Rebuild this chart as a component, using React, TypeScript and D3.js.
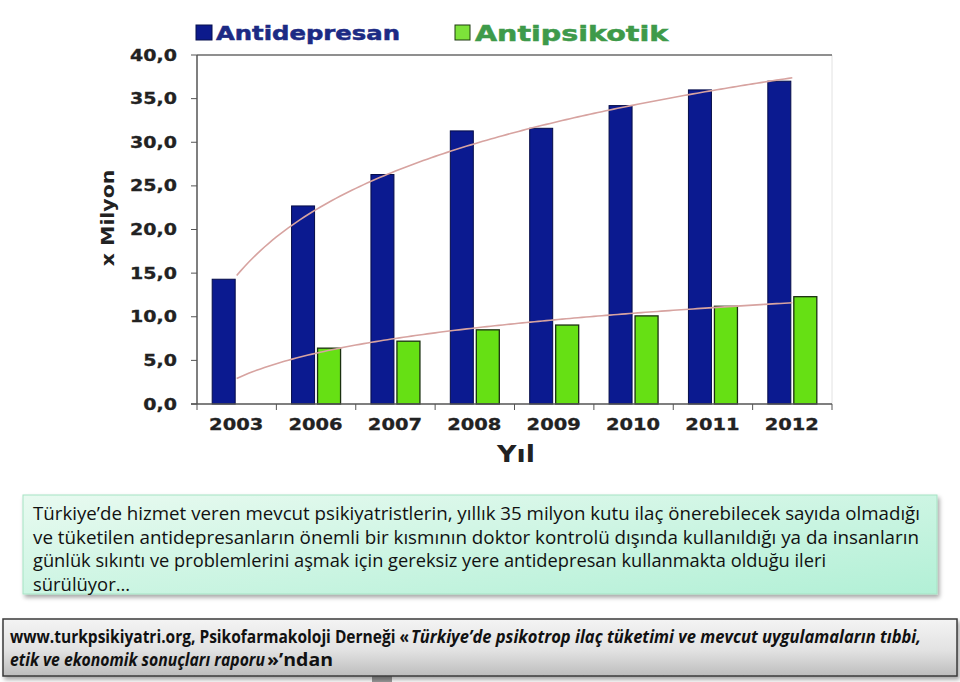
import React from "react";
import * as d3 from "d3";

const years = ["2003", "2006", "2007", "2008", "2009", "2010", "2011", "2012"];
const antidepresan: (number | null)[] = [14.3, 22.7, 26.3, 31.3, 31.6, 34.2, 36.0, 37.0];
const antipsikotik: (number | null)[] = [null, 6.4, 7.2, 8.5, 9.05, 10.1, 11.2, 12.3];
const yTicks = [0, 5, 10, 15, 20, 25, 30, 35, 40];
const seriesNames = ["Antidepresan", "Antipsikotik"];
const yAxisTitle = "x Milyon";
const xAxisTitle = "Yıl";
const noteLines = [
  "Türkiye’de hizmet veren mevcut psikiyatristlerin, yıllık 35 milyon kutu ilaç önerebilecek sayıda olmadığı",
  "ve tüketilen antidepresanların önemli bir kısmının  doktor kontrolü dışında kullanıldığı ya da insanların",
  "günlük sıkıntı ve problemlerini aşmak için gereksiz yere antidepresan kullanmakta olduğu ileri",
  "sürülüyor…",
];
const noteWidths = [887, 886, 793, 97];
// source pieces: [text, italic, line, x-start, width]
const sourceParts: [string, boolean, number, number, number][] = [
  ["www.turkpsikiyatri.org, Psikofarmakoloji Derneği «", false, 0, 10, 399],
  ["Türkiye’de psikotrop ilaç tüketimi ve mevcut uygulamaların tıbbi,", true, 0, 411, 510],
  ["etik ve ekonomik sonuçları raporu", true, 1, 10, 255],
  ["»’ndan", false, 1, 267, 66],
];

function logFit(vals: (number | null)[]) {
  const pts = vals
    .map((v, i) => ({ x: Math.log(i + 1), y: v }))
    .filter((p) => p.y != null) as { x: number; y: number }[];
  const mx = d3.mean(pts, (p) => p.x)!;
  const my = d3.mean(pts, (p) => p.y)!;
  const a =
    d3.sum(pts, (p) => (p.x - mx) * (p.y - my)) / d3.sum(pts, (p) => (p.x - mx) ** 2);
  const b = my - a * mx;
  return (t: number) => a * Math.log(t) + b;
}

export default function App() {
  const left = 197, right = 832, top = 55, bottom = 404;
  const x = d3.scaleBand<string>().domain(years).range([left, right]).paddingInner(0).paddingOuter(0);
  const y = d3.scaleLinear().domain([0, 40]).range([bottom, top]);
  const barW = 23;
  const idx = d3
    .scaleLinear()
    .domain([1, years.length])
    .range([x(years[0])! + x.bandwidth() / 2, x(years[years.length - 1])! + x.bandwidth() / 2]);
  const samples = d3.range(1, years.length + 0.001, 0.05);
  const fitA = logFit(antidepresan);
  const fitB = logFit(antipsikotik);
  const line = d3
    .line<number>()
    .x((t) => idx(t))
    .curve(d3.curveLinear);
  const pathA = line.y((t) => y(fitA(t)))(samples) || "";
  const pathB = line.y((t) => y(fitB(t)))(samples) || "";

  const bold = "'DejaVu Sans', Verdana, sans-serif";

  return (
    <div style={{ position: "absolute", left: 0, top: 0 }}>
      <svg width={960} height={682} style={{ display: "block", background: "#fff" }}>
        <defs>
          <linearGradient id="noteGrad" x1="0" y1="0" x2="1" y2="1">
            <stop offset="0" stopColor="#e8faf0" />
            <stop offset="1" stopColor="#b2f0d6" />
          </linearGradient>
          <linearGradient id="srcGrad" x1="0" y1="0" x2="0" y2="1">
            <stop offset="0" stopColor="#f4f4f4" />
            <stop offset="0.55" stopColor="#e2e2e2" />
            <stop offset="1" stopColor="#bdbdbd" />
          </linearGradient>
          <filter id="shadow" x="-5%" y="-20%" width="110%" height="150%">
            <feDropShadow dx="2" dy="3" stdDeviation="2" floodColor="#000" floodOpacity="0.35" />
          </filter>
        </defs>

        {/* legend */}
        <rect x={196} y={25} width={16} height={15} fill="#0c1a8c" stroke="#06104f" strokeWidth={1} />
        <text
          transform="translate(216,40) scale(1.28,1)"
          fontFamily={bold}
          fontWeight="bold"
          fontSize={19}
          fill="#1c2a84"
          stroke="#1c2a84"
          strokeWidth={0.5}
        >
          {seriesNames[0]}
        </text>
        <rect x={455} y={25} width={15} height={15} fill="#7de23a" stroke="#1e3a10" strokeWidth={1} />
        <text
          transform="translate(475,41) scale(1.36,1)"
          fontFamily={bold}
          fontWeight="bold"
          fontSize={21}
          fill="#3e9a4a"
          stroke="#3e9a4a"
          strokeWidth={0.5}
        >
          {seriesNames[1]}
        </text>

        {/* plot frame */}
        <line x1={right} x2={right} y1={top} y2={bottom} stroke="#e2e2e2" strokeWidth={1} />
        <line x1={left} x2={right} y1={top} y2={top} stroke="#6a6a6a" strokeWidth={1.5} />

        {/* bars */}
        {years.map((yr, i) => {
          const cx = x(yr)! + x.bandwidth() / 2;
          const a = antidepresan[i];
          const b = antipsikotik[i];
          return (
            <g key={yr}>
              {a != null && (
                <rect
                  x={cx - 1.5 - barW}
                  y={y(a)}
                  width={barW}
                  height={y(0) - y(a)}
                  fill="#0b1a90"
                  stroke="#050c48"
                  strokeWidth={1}
                />
              )}
              {b != null && (
                <rect
                  x={cx + 1.5}
                  y={y(b)}
                  width={barW}
                  height={y(0) - y(b)}
                  fill="#66e014"
                  stroke="#1a3010"
                  strokeWidth={1.3}
                />
              )}
            </g>
          );
        })}

        {/* trend lines */}
        <path d={pathA} fill="none" stroke="#d7a3a0" strokeWidth={1.6} />
        <path d={pathB} fill="none" stroke="#d7a3a0" strokeWidth={1.6} />

        {/* axes */}
        <line x1={left} x2={left} y1={top} y2={bottom} stroke="#555" strokeWidth={1.5} />
        <line x1={left - 6} x2={right} y1={bottom} y2={bottom} stroke="#555" strokeWidth={1.5} />
        {yTicks.map((t) => (
          <g key={t}>
            <line x1={left - 6} x2={left} y1={y(t)} y2={y(t)} stroke="#555" strokeWidth={1} />
            <text
              transform={`translate(177,${y(t) + 5.5}) scale(1.27,1)`}
              textAnchor="end"
              fontFamily={bold}
              fontWeight="bold"
              fontSize={15}
              fill="#222"
              stroke="#222"
              strokeWidth={0.3}
            >
              {t.toFixed(1).replace(".", ",")}
            </text>
          </g>
        ))}
        {years.map((yr) => (
          <line
            key={"t" + yr}
            x1={x(yr)!}
            x2={x(yr)!}
            y1={bottom}
            y2={bottom + 6}
            stroke="#555"
            strokeWidth={1}
          />
        ))}
        <line x1={right} x2={right} y1={bottom} y2={bottom + 6} stroke="#555" strokeWidth={1} />
        {years.map((yr) => (
          <text
            key={"l" + yr}
            transform={`translate(${x(yr)! + x.bandwidth() / 2 - 0.5},${bottom + 26}) scale(1.18,1)`}
            textAnchor="middle"
            fontFamily={bold}
            fontWeight="bold"
            fontSize={16.5}
            fill="#222"
            stroke="#222"
            strokeWidth={0.3}
          >
            {yr}
          </text>
        ))}
        <text
          transform="translate(516,462) scale(1.17,1)"
          textAnchor="middle"
          fontFamily={bold}
          fontWeight="bold"
          fontSize={23}
          fill="#222"
        >
          {xAxisTitle}
        </text>
        <text
          transform="translate(114,218) rotate(-90) scale(1.2,1)"
          textAnchor="middle"
          fontFamily={bold}
          fontWeight="bold"
          fontSize={17}
          fill="#222"
        >
          {yAxisTitle}
        </text>

        {/* note box */}
        <rect
          x={23}
          y={495}
          width={914}
          height={99}
          fill="url(#noteGrad)"
          stroke="#a6e3c4"
          strokeWidth={1}
          filter="url(#shadow)"
        />
        {noteLines.map((l, i) => (
          <text
            key={i}
            x={33}
            y={520 + i * 23.5}
            fontFamily="'Open Sans', sans-serif"
            fontSize={18}
            fill="#111"
            textLength={noteWidths[i]}
            lengthAdjust="spacingAndGlyphs"
          >
            {l}
          </text>
        ))}

        {/* source box */}
        <rect x={372} y={672} width={20} height={10} fill="#9a9a9a" />
        <rect
          x={3}
          y={619}
          width={954}
          height={57}
          fill="url(#srcGrad)"
          stroke="#3a3a3a"
          strokeWidth={1.5}
          filter="url(#shadow)"
        />
        {sourceParts.map(([t, it, ln, sx, w], i) => (
          <text
            key={"s" + i}
            x={sx}
            y={643 + ln * 23}
            fontFamily="'Open Sans', sans-serif"
            fontWeight="bold"
            fontStyle={it ? "italic" : "normal"}
            fontSize={17.5}
            fill="#111"
            textLength={w}
            lengthAdjust="spacingAndGlyphs"
          >
            {t}
          </text>
        ))}
      </svg>
    </div>
  );
}
